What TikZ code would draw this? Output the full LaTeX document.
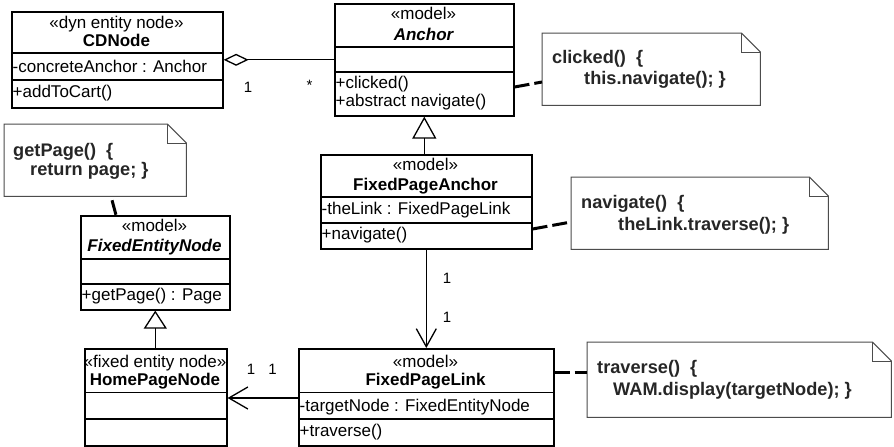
\documentclass[tikz,border=0pt]{standalone}
\usepackage{fontspec}
\setmainfont{Liberation Sans}
\usetikzlibrary{arrows.meta}

\tikzset{
  classbox/.style={draw, line width=1.6pt, fill=white, inner sep=0pt, anchor=north west},
  divider/.style={line width=1.6pt},
  ctext/.style={inner sep=0pt, font=\fontsize{17}{20}\selectfont},
  cname/.style={inner sep=0pt, font=\fontsize{17}{20}\selectfont\bfseries},
  aname/.style={inner sep=0pt, font=\fontsize{17}{20}\selectfont\bfseries\itshape},
  notebox/.style={inner sep=0pt, anchor=north west},
  noteline/.style={draw=black!70, line width=1pt},
  ntext/.style={inner sep=0pt, anchor=base west, text=black!85, font=\fontsize{18.2}{22}\selectfont\bfseries},
  assoc/.style={line width=1.3pt},
  notelink/.style={line width=3pt, dash pattern=on 15pt off 5pt},
  mult/.style={inner sep=0pt, anchor=base, font=\fontsize{15}{18}\selectfont},
}

% dog-eared outline of a note, drawn round an invisible node
\newcommand\umlnoteshape[1]{%
  \draw[noteline, fill=white] (#1.north west) -- ([xshift=-19pt]#1.north east)
     -- ([yshift=-19pt]#1.north east) -- (#1.south east) -- (#1.south west) -- cycle;
  \draw[noteline] ([xshift=-19pt]#1.north east) |- ([yshift=-19pt]#1.north east);
}

\begin{document}
\begin{tikzpicture}[x=1pt, y=-1pt]
\useasboundingbox (0,0) rectangle (894,447);
\fill[white] (0,0) rectangle (894,447);

% ---------------- CDNode
\node[classbox, minimum width=211pt, minimum height=96pt] (cdnode) at (11,11) {};
\draw[divider] (cdnode.west |- 0,53) -- (cdnode.east |- 0,53);
\draw[divider] (cdnode.west |- 0,80) -- (cdnode.east |- 0,80);
\node[ctext, anchor=base] (cdnode-st) at (116.5,28.5) {«dyn entity node»};
\node[cname, anchor=base] (cdnode-nm) at (116.5,46.5) {CDNode};
\node[ctext, anchor=base west] (cdnode-a1) at (12.5,72) {-concreteAnchor : Anchor};
\node[ctext, anchor=base west] (cdnode-m1) at (12.5,97) {+addToCart()};

% ---------------- Anchor
\node[classbox, minimum width=179pt, minimum height=112pt] (anchor) at (334,3) {};
\draw[divider] (anchor.west |- 0,47) -- (anchor.east |- 0,47);
\draw[divider] (anchor.west |- 0,72) -- (anchor.east |- 0,72);
\node[ctext, anchor=base] (anchor-st) at (423.5,19.5) {«model»};
\node[aname, anchor=base] (anchor-nm) at (423.5,40) {Anchor};
\node[ctext, anchor=base west] (anchor-m1) at (335.5,88) {+clicked()};
\node[ctext, anchor=base west] (anchor-m2) at (335.5,106) {+abstract navigate()};

% ---------------- FixedPageAnchor
\node[classbox, minimum width=211pt, minimum height=94pt] (fpanchor) at (320,154) {};
\draw[divider] (fpanchor.west |- 0,197) -- (fpanchor.east |- 0,197);
\draw[divider] (fpanchor.west |- 0,223) -- (fpanchor.east |- 0,223);
\node[ctext, anchor=base] (fpanchor-st) at (425.5,170) {«model»};
\node[cname, anchor=base] (fpanchor-nm) at (425.5,190) {FixedPageAnchor};
\node[ctext, anchor=base west] (fpanchor-a1) at (321.5,214) {-theLink : FixedPageLink};
\node[ctext, anchor=base west] (fpanchor-m1) at (321.5,239) {+navigate()};

% ---------------- FixedEntityNode
\node[classbox, minimum width=149pt, minimum height=94pt] (fenode) at (80,215) {};
\draw[divider] (fenode.west |- 0,259) -- (fenode.east |- 0,259);
\draw[divider] (fenode.west |- 0,284) -- (fenode.east |- 0,284);
\node[ctext, anchor=base] (fenode-st) at (154.5,231.5) {«model»};
\node[aname, anchor=base] (fenode-nm) at (154.5,251.5) {FixedEntityNode};
\node[ctext, anchor=base west] (fenode-m1) at (81.5,300) {+getPage() : Page};

% ---------------- HomePageNode
\node[classbox, minimum width=142pt, minimum height=97pt] (home) at (84,348) {};
\draw[divider] (home.west |- 0,392.5) -- (home.east |- 0,392.5);
\draw[divider] (home.west |- 0,419) -- (home.east |- 0,419);
\node[ctext, anchor=base] (home-st) at (155,367) {«fixed entity node»};
\node[cname, anchor=base] (home-nm) at (155,385) {HomePageNode};

% ---------------- FixedPageLink
\node[classbox, minimum width=255pt, minimum height=97pt] (fplink) at (298,348) {};
\draw[divider] (fplink.west |- 0,392.5) -- (fplink.east |- 0,392.5);
\draw[divider] (fplink.west |- 0,419) -- (fplink.east |- 0,419);
\node[ctext, anchor=base] (fplink-st) at (425.5,367) {«model»};
\node[cname, anchor=base] (fplink-nm) at (425.5,385) {FixedPageLink};
\node[ctext, anchor=base west] (fplink-a1) at (299.5,411) {-targetNode : FixedEntityNode};
\node[ctext, anchor=base west] (fplink-m1) at (299.5,436) {+traverse()};

% ---------------- notes
\node[notebox, minimum width=218pt, minimum height=72pt] (n1) at (542,33) {};
\umlnoteshape{n1}
\node[ntext] (n1-l1) at (552,63) {clicked()\ \ \{};
\node[ntext] (n1-l2) at (584,84) {this.navigate(); \}};

\node[notebox, minimum width=182pt, minimum height=72pt] (n2) at (4,124) {};
\umlnoteshape{n2}
\node[ntext] (n2-l1) at (13,156) {getPage()\ \ \{};
\node[ntext] (n2-l2) at (30,175) {return page; \}};

\node[notebox, minimum width=257pt, minimum height=72pt] (n3) at (571,177) {};
\umlnoteshape{n3}
\node[ntext] (n3-l1) at (581,208) {navigate()\ \ \{};
\node[ntext] (n3-l2) at (618,230) {theLink.traverse(); \}};

\node[notebox, minimum width=304pt, minimum height=75pt] (n4) at (587,342) {};
\umlnoteshape{n4}
\node[ntext] (n4-l1) at (597,373) {traverse()\ \ \{};
\node[ntext] (n4-l2) at (613,395) {WAM.display(targetNode); \}};

% ---------------- relations
\draw[assoc, -{Diamond[open, length=25pt, width=12pt]}] (anchor.west |- cdnode.east) -- (cdnode.east);
\node[mult] (m-agg-1) at (248,92) {1};
\node[mult] (m-agg-n) at (309.5,90.5) {*};

\draw[assoc, -{Triangle[open, length=22pt, width=24pt]}] (anchor.south |- fpanchor.north) -- (anchor.south);
\draw[assoc, -{Triangle[open, length=18pt, width=23pt]}] (fenode.south |- home.north) -- (fenode.south);

\draw[assoc, -{Straight Barb[length=18pt, width=20pt]}] (fpanchor.south) -- (fpanchor.south |- fplink.north);
\node[mult] (m-link-a) at (447,283) {1};
\node[mult] (m-link-b) at (447,322) {1};

\draw[assoc, -{Straight Barb[length=19pt, width=22pt]}] (fplink.west |- 0,398) -- (home.east |- 0,398);
\node[mult] (m-home-a) at (251,374.5) {1};
\node[mult] (m-home-b) at (272.5,374.5) {1};

% dashed note attachments
\draw[notelink] (anchor.east |- 0,87) -- (n1.west |- 0,82);
\draw[notelink] (fpanchor.east |- 0,229) -- (n3.west |- 0,222);
\draw[notelink] (fplink.east |- 0,372) -- (n4.west |- 0,372);
\draw[notelink, dash phase=16pt] (n2.south -| 111,0) -- (fenode.north -| 116,0);
\end{tikzpicture}
\end{document}
